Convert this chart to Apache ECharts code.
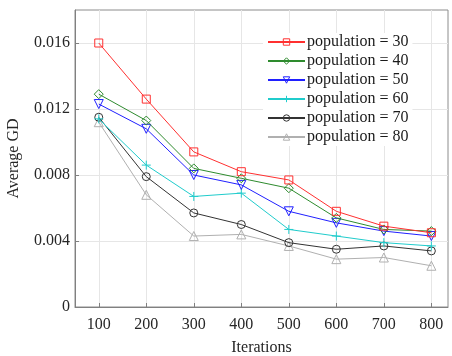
<!DOCTYPE html>
<html><head><meta charset="utf-8">
<script src="https://cdn.jsdelivr.net/npm/echarts@6/dist/echarts.min.js"></script>
<style>html,body{margin:0;padding:0;background:#fff}#c{width:452px;height:356px}</style>
</head><body><div id="c"></div>
<script>
const iterations = [100, 200, 300, 400, 500, 600, 700, 800];
const xTicks = [100, 200, 300, 400, 500, 600, 700, 800];
const yTicks = [0, 0.004, 0.008, 0.012, 0.016];
const pop30 = [0.0160, 0.0126, 0.0094, 0.0082, 0.0077, 0.0058, 0.0049, 0.0045];
const pop40 = [0.0129, 0.0113, 0.0084, 0.0078, 0.0072, 0.0054, 0.0047, 0.0046];
const pop50 = [0.0123, 0.0108, 0.0080, 0.0074, 0.0058, 0.0051, 0.0046, 0.0043];
const pop60 = [0.0114, 0.0086, 0.0067, 0.0069, 0.0047, 0.0043, 0.0039, 0.0037];
const pop70 = [0.0115, 0.0079, 0.0057, 0.0050, 0.0039, 0.0035, 0.0037, 0.0034];
const pop80 = [0.0112, 0.0068, 0.0043, 0.0044, 0.0037, 0.0029, 0.0030, 0.0025];
const seriesNames = ['population = 30','population = 40','population = 50','population = 60','population = 70','population = 80'];
const seriesData = [pop30, pop40, pop50, pop60, pop70, pop80];
const colors = ['#ff3030', '#2e8b2e', '#2020ff', '#20cccc', '#333333', '#b0b0b0'];
const symbols = ['rect', 'diamond', 'triangle', 'path://M5,0L5,10M0,5L10,5', 'circle', 'triangle'];
const rotations = [0, 0, 180, 0, 0, 0];
const sizes = [8, 9, 9, 9, 8, 9];

const font = 'Liberation Serif';
const chart = echarts.init(document.getElementById('c'));
chart.setOption({
  animation: false,
  backgroundColor: '#fff',
  grid: { left: 75, right: 4, top: 10, bottom: 49, outerBoundsMode: 'none', containLabel: false,
    show: true, borderColor: '#8c8c8c', borderWidth: 1, backgroundColor: 'transparent' },
  legend: {
    orient: 'vertical', left: 263, top: 33,
    itemWidth: 37, itemHeight: 8, itemGap: 3,
    backgroundColor: '#fff', padding: [1, 4, 1, 4],
    itemStyle: { color: 'rgba(255,255,255,0)', borderWidth: 1 },
    textStyle: { fontFamily: font, fontSize: 16, color: '#1a1a1a', padding: [0,0,0,-3] },
    data: seriesNames
  },
  xAxis: {
    type: 'value', min: 50, max: 835,
    name: 'Iterations', nameLocation: 'middle', nameGap: 33,
    nameTextStyle: { fontFamily: font, fontSize: 16, color: '#262626' },
    axisLine: { show: true, onZero: false, lineStyle: { color: '#808080', width: 1 } },
    axisTick: { show: true, inside: true, length: 4, customValues: xTicks, lineStyle: { color: '#808080' } },
    axisLabel: { customValues: xTicks, fontFamily: font, fontSize: 16, color: '#262626', margin: 10 },
    splitLine: { show: true, lineStyle: { color: '#e6e6e6', width: 1 } }
  },
  yAxis: {
    type: 'value', min: 0, max: 0.018, interval: 0.004,
    name: 'Average GD', nameLocation: 'middle', nameGap: 53,
    nameTextStyle: { fontFamily: font, fontSize: 16, color: '#262626' },
    axisLine: { show: true, lineStyle: { color: '#808080', width: 1 } },
    axisTick: { show: true, inside: true, length: 4, customValues: yTicks, lineStyle: { color: '#808080' } },
    axisLabel: { customValues: yTicks, fontFamily: font, fontSize: 16, color: '#262626', margin: 5,
      formatter: v => v === 0 ? '0' : v.toFixed(3) },
    splitLine: { show: true, lineStyle: { color: '#e6e6e6', width: 1 } }
  },
  series: seriesNames.map((n, i) => ({
    name: n, type: 'line',
    data: iterations.map((x, j) => [x, seriesData[i][j]]),
    symbol: symbols[i], symbolSize: sizes[i], symbolRotate: rotations[i],
    showAllSymbol: true,
    lineStyle: { color: colors[i], width: 1 },
    itemStyle: { color: 'rgba(255,255,255,0)', borderColor: colors[i], borderWidth: 1 },
    z: 10 - i
  }))
});
</script></body></html>
